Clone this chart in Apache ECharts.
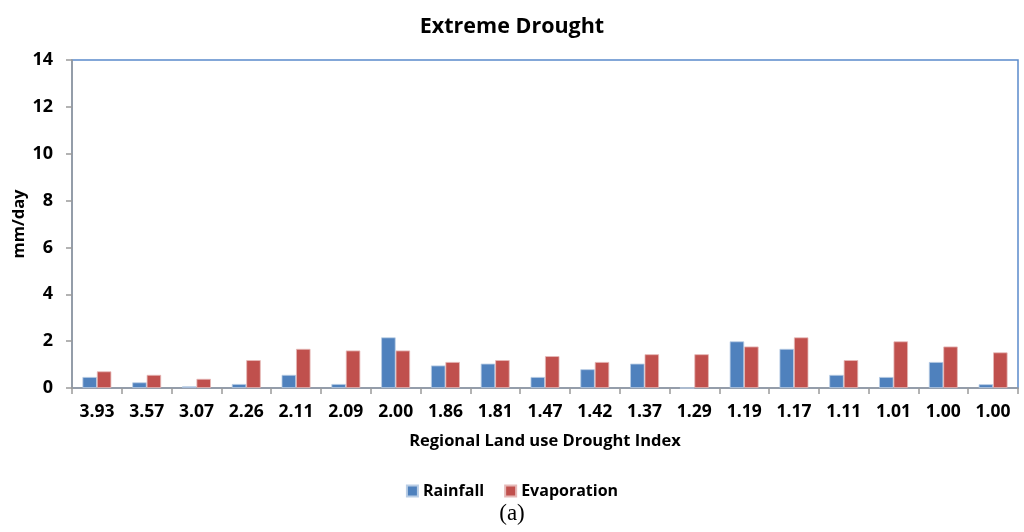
<!DOCTYPE html>
<html>
<head>
<meta charset="utf-8">
<script src="https://cdn.jsdelivr.net/npm/echarts@6/dist/echarts.min.js"></script>
<style>
html,body{margin:0;padding:0;background:#fff;}
#chart{width:1024px;height:532px;}
</style>
</head>
<body>
<div id="chart"></div>
<script>
const categories = ['3.93','3.57','3.07','2.26','2.11','2.09','2.00','1.86','1.81','1.47','1.42','1.37','1.29','1.19','1.17','1.11','1.01','1.00','1.00'];
const rainfall = [0.47,0.24,0.07,0.17,0.56,0.17,2.16,0.96,1.04,0.47,0.80,1.04,0,1.99,1.67,0.56,0.47,1.11,0.16];
const evaporation = [0.71,0.56,0.39,1.19,1.67,1.60,1.60,1.11,1.19,1.36,1.11,1.44,1.44,1.77,2.16,1.19,1.99,1.77,1.52];
const yTicks = [0,2,4,6,8,10,12,14];

const font = '"Open Sans", "Liberation Sans", sans-serif';
const chart = echarts.init(document.getElementById('chart'));
chart.setOption({
  animation: false,
  backgroundColor: '#fff',
  title: [{
    text: 'Extreme Drought',
    left: 'center', top: 11,
    textStyle: {fontFamily: font, fontWeight: 'bold', fontSize: 21.5, color: '#000'}
  }, {
    text: '(a)',
    left: 'center', top: 497,
    textStyle: {fontFamily: '"Liberation Serif", "DejaVu Serif", serif', fontWeight: 'normal', fontSize: 23, color: '#000'}
  }],
  legend: {
    data: ['Rainfall','Evaporation'],
    top: 478, left: 'center',
    itemWidth: 11, itemHeight: 11, itemGap: 20,
    icon: 'rect',
    textStyle: {fontFamily: font, fontWeight: 'bold', fontSize: 16, color: '#000'}
  },
  grid: {
    left: 72, right: 6, top: 60, bottom: 144,
    outerBoundsMode: 'none',
    containLabel: false,
    show: true, borderColor: '#5B8BCB', borderWidth: 1.5, backgroundColor: 'transparent'
  },
  xAxis: {
    type: 'category',
    data: categories,
    name: 'Regional Land use Drought Index',
    nameLocation: 'middle', nameGap: 45,
    nameTextStyle: {fontFamily: font, fontWeight: 'bold', fontSize: 16.5, color: '#000'},
    axisLine: {lineStyle: {color: '#9a9a9a', width: 1.5}},
    axisTick: {show: true, alignWithLabel: false, length: 6, lineStyle: {color: '#9a9a9a', width: 1.5}},
    axisLabel: {fontFamily: font, fontWeight: 'bold', fontSize: 17.5, color: '#000', margin: 15, interval: 0},
    splitLine: {show: false}
  },
  yAxis: {
    type: 'value',
    min: 0, max: 14, interval: 2,
    name: 'mm/day',
    nameLocation: 'middle', nameGap: 44, nameRotate: 90,
    nameMoveOverlap: false,
    nameTextStyle: {fontFamily: font, fontWeight: 'bold', fontSize: 16.5, color: '#000'},
    axisLine: {show: true, lineStyle: {color: '#9a9a9a', width: 1.5}},
    axisTick: {show: true, length: 6, inside: false, lineStyle: {color: '#9a9a9a', width: 1.5}},
    axisLabel: {fontFamily: font, fontWeight: 'bold', fontSize: 18, color: '#000', margin: 19,
      formatter: v => yTicks.includes(v) ? String(v) : ''},
    splitLine: {show: false}
  },
  series: [{
    name: 'Rainfall', type: 'bar', data: rainfall,
    barGap: '0%', barCategoryGap: '42%',
    itemStyle: {color: '#4F81BD', borderColor: '#B9CDE5', borderWidth: 0.8}
  }, {
    name: 'Evaporation', type: 'bar', data: evaporation,
    itemStyle: {color: '#C0504D', borderColor: '#E6B9B8', borderWidth: 0.8}
  }]
});
</script>
</body>
</html>
